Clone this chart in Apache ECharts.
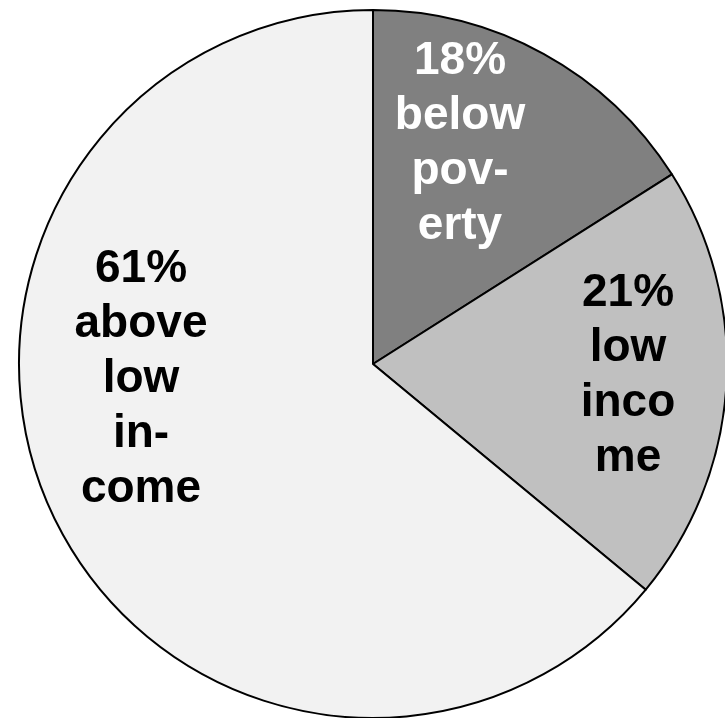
<!DOCTYPE html>
<html>
<head>
<meta charset="utf-8">
<script src="https://cdn.jsdelivr.net/npm/echarts@6/dist/echarts.min.js"></script>
<style>
  html, body { margin: 0; padding: 0; background: #fff; }
  #chart { width: 725px; height: 718px; }
</style>
</head>
<body>
<div id="chart"></div>
<script>
// slice sizes as drawn (angles), labels as printed
const categories = ['below poverty', 'low income', 'above low income']
const sliceValues = [16, 20, 64]
const labelTexts = ['18%\nbelow\npov-\nerty', '21%\nlow\ninco\nme', '61%\nabove\nlow\nin-\ncome']

const sliceColors = ['#808080', '#c0c0c0', '#f2f2f2']
const labelColors = ['#ffffff', '#000000', '#000000']
// label anchor points (px) inside each slice
const labelSpots = [[460, 144], [628, 376], [141, 379]]

const chart = echarts.init(document.getElementById('chart'))

chart.setOption({
  animation: false,
  series: [
    {
      type: 'pie',
      center: [373, 364],
      radius: [0, 354],
      startAngle: 90,
      clockwise: true,
      avoidLabelOverlap: false,
      itemStyle: {
        borderColor: '#000',
        borderWidth: 2
      },
      label: {
        show: true,
        position: 'inside',
        fontFamily: 'Liberation Sans, Arial, sans-serif',
        fontWeight: 'bold',
        fontSize: 46,
        lineHeight: 55,
        align: 'center',
        formatter: (p) => labelTexts[p.dataIndex]
      },
      labelLine: { show: false },
      emphasis: { disabled: true },
      labelLayout: (p) => ({
        x: labelSpots[p.dataIndex][0],
        y: labelSpots[p.dataIndex][1],
        align: 'center',
        verticalAlign: 'middle'
      }),
      data: categories.map((name, i) => ({
        name: name,
        value: sliceValues[i],
        itemStyle: { color: sliceColors[i] },
        label: { color: labelColors[i] }
      }))
    }
  ]
})
</script>
</body>
</html>
